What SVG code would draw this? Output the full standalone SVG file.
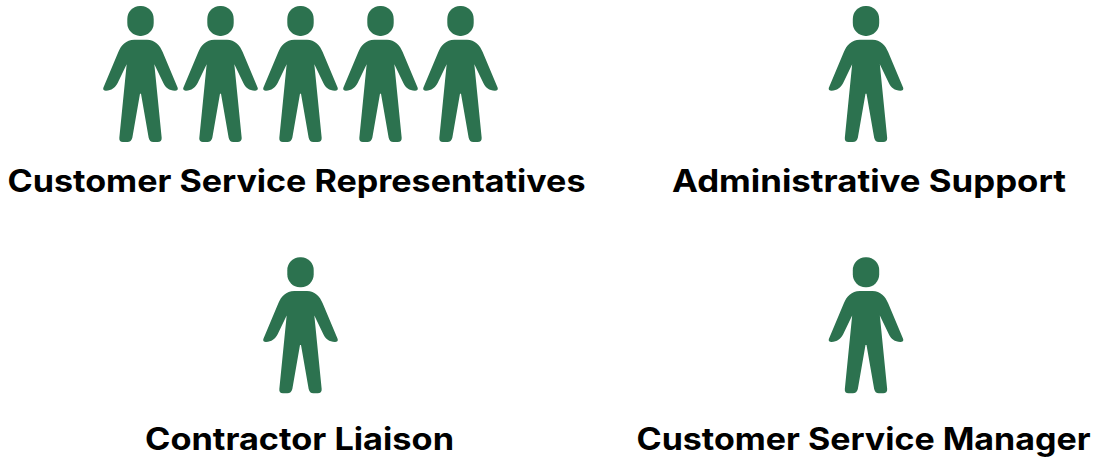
<svg xmlns="http://www.w3.org/2000/svg" width="1094" height="457" viewBox="0 0 1094 457">
<style>
.p{fill:#2c724f}
.t{font-family:"Inter","Liberation Sans",sans-serif;font-weight:700;font-size:31px;fill:#000;text-anchor:middle}
</style>
<defs>
<g id="person" class="p">
<rect x="-13.2" y="5.9" width="26.4" height="30" rx="12.6" ry="13"/>
<path transform="translate(-45.5 0.3) scale(.33333)" d="M118 118H156C180 118 195 135 203 155L248 262C250 268 246 271 240 271C222 271 212 262 205 248L178 192L200 412C201 420 196 425 188 425H175C167 425 163 420 161 412L138 280H135L112 412C110 420 105 425 97 425H84C76 425 72 420 73 412L95 192L68 248C60 262 50 271 33 271C27 271 23 268 25 262L70 155C78 135 93 118 118 118Z"/>
</g>
</defs>
<g id="connectors"/>
<g id="customer-service-representatives">
<use href="#person" x="140.5" y="0"/>
<use href="#person" x="220.5" y="0"/>
<use href="#person" x="300.5" y="0"/>
<use href="#person" x="380.5" y="0"/>
<use href="#person" x="460.5" y="0"/>
<text class="t" x="296.5" y="192" textLength="578" lengthAdjust="spacingAndGlyphs">Customer Service Representatives</text>
</g>
<g id="administrative-support">
<use href="#person" x="866" y="0"/>
<text class="t" x="869" y="192" textLength="394" lengthAdjust="spacingAndGlyphs">Administrative Support</text>
</g>
<g id="contractor-liaison">
<use href="#person" x="300.5" y="251.3"/>
<text class="t" x="299.5" y="450" textLength="309" lengthAdjust="spacingAndGlyphs">Contractor Liaison</text>
</g>
<g id="customer-service-manager">
<use href="#person" x="866" y="251.3"/>
<text class="t" x="863.5" y="450" textLength="454" lengthAdjust="spacingAndGlyphs">Customer Service Manager</text>
</g>
</svg>
